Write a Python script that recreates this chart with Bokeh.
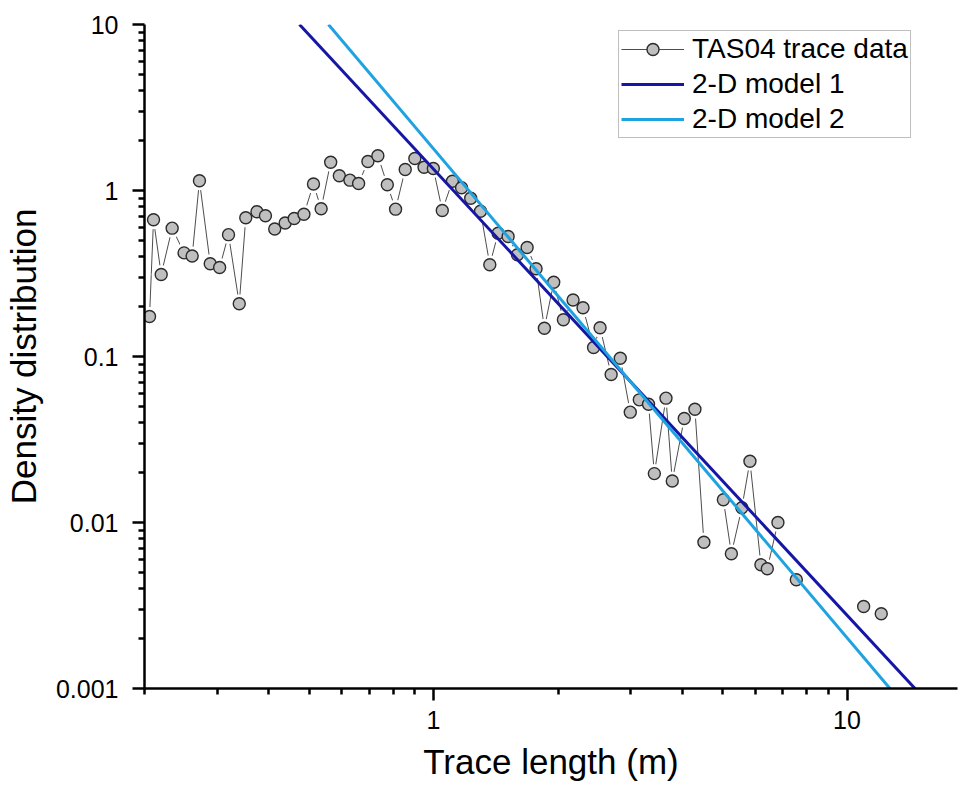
from bokeh.plotting import figure
from bokeh.models import FixedTicker, Legend, LegendItem, ColumnDataSource
from bokeh.embed import file_html
from bokeh.resources import INLINE

nan = float("nan")

# TAS04 trace data (NaN = empty bin, breaks the connecting line)
trace_x = [0.2057, 0.2103, 0.2195, 0.2333, 0.2493, 0.2608, 0.2716, 0.2884, 0.3039, 0.3193,
           0.3390, 0.3515, 0.3741, 0.3922, 0.4130, 0.4377, 0.4603, 0.4859, 0.5125, 0.5348,
           0.5640, 0.5918, 0.6278, 0.6589, 0.6940, 0.7335, 0.7731, 0.8095, 0.8542, 0.9012,
           0.9486, 0.9989, 1.050, 1.111, 1.169, 1.230, 1.299, 1.368, 1.433, 1.515,
           1.596, 1.684, 1.770, 1.854, 1.953, 2.061, 2.175, 2.299, 2.438, 2.528,
           2.689, 2.829, 2.991, 3.145, 3.311, 3.420, 3.649, 3.779, 4.040, 4.287,
           4.507, 4.76, 5.023, 5.252, 5.568, 5.824, 6.191, 6.415, 6.806, 7.16,
           7.540, 9.0, 10.97, 11.5, 12.10]
trace_y = [0.174, 0.666, 0.312, 0.593, 0.421, 0.403, 1.144, 0.362, 0.344, 0.542,
           0.208, 0.685, 0.745, 0.705, 0.586, 0.637, 0.678, 0.719, 1.094, 0.777,
           1.481, 1.226, 1.154, 1.102, 1.495, 1.618, 1.082, 0.772, 1.338, 1.559,
           1.381, 1.357, 0.758, 1.138, 1.038, 0.899, 0.750, 0.357, 0.553, 0.528,
           0.410, 0.454, 0.338, 0.148, 0.280, 0.1664, 0.219, 0.1965, 0.1133, 0.149,
           0.0779, 0.0977, 0.0462, 0.0548, 0.0516, 0.0197, 0.0561, 0.0178, 0.0423, 0.0481,
           0.00761, nan, 0.0137, 0.00648, 0.01227, 0.0234, 0.00556, 0.00526, 0.0100, nan,
           0.00452, nan, 0.00312, nan, 0.00282]

# 2-D models (end points read where the lines cross the frame)
model1_x = [0.474, 14.6]
model1_y = [10.0, 0.001]
model2_x = [0.557, 12.7]
model2_y = [10.0, 0.001]

x_ticks = [1, 10]
x_tick_labels = ["1", "10"]
y_ticks = [0.001, 0.01, 0.1, 1, 10]
y_tick_labels = ["0.001", "0.01", "0.1", "1", "10"]

FONT = "Liberation Sans"

p = figure(width=960, height=794, x_axis_type="log", y_axis_type="log",
           x_range=(0.2, 18.5), y_range=(0.001, 10),
           output_backend="svg", toolbar_location=None,
           min_border_left=144, min_border_right=3, min_border_top=24, min_border_bottom=106)
p.outline_line_color = None
p.grid.visible = False
p.background_fill_color = "white"

src = ColumnDataSource(dict(x=trace_x, y=trace_y))
r_line = p.line("x", "y", source=src, line_color="#4d4d4d", line_width=1)
r_halo = p.scatter("x", "y", source=src, size=19, fill_color="white", line_color=None)
r_pts = p.scatter("x", "y", source=src, size=12, fill_color="#bfbfbf",
                  line_color="#2b2b2b", line_width=1.4)

r_m1 = p.line(model1_x, model1_y, line_color="#1616a6", line_width=3)
r_m2 = p.line(model2_x, model2_y, line_color="#1fa3e0", line_width=3)

# axes
minor_x = [m * 10 ** k for k in (-1, 0, 1) for m in range(2, 10)]
minor_y = [m * 10 ** k for k in (-3, -2, -1, 0) for m in range(2, 10)]
p.xaxis.ticker = FixedTicker(ticks=x_ticks, minor_ticks=minor_x)
p.yaxis.ticker = FixedTicker(ticks=y_ticks, minor_ticks=minor_y)
p.xaxis.major_label_overrides = dict(zip(x_ticks, x_tick_labels))
p.yaxis.major_label_overrides = dict(zip(y_ticks, y_tick_labels))

for ax in (p.xaxis[0], p.yaxis[0]):
    ax.axis_line_color = "black"
    ax.axis_line_width = 2.5
    ax.major_tick_line_color = "black"
    ax.major_tick_line_width = 2.5
    ax.minor_tick_line_color = "black"
    ax.minor_tick_line_width = 2.5
    ax.major_tick_in = 0
    ax.major_tick_out = 12
    ax.minor_tick_in = 0
    ax.minor_tick_out = 6
    ax.major_label_text_font = FONT
    ax.major_label_text_font_size = "25px"
    ax.major_label_text_color = "black"
    ax.axis_label_text_font = FONT
    ax.axis_label_text_font_size = "35px"
    ax.axis_label_text_font_style = "normal"
    ax.axis_label_text_color = "black"

p.xaxis.axis_label = "Trace length (m)"
p.yaxis.axis_label = "Density distribution"
p.xaxis.major_label_standoff = 10
p.yaxis.major_label_standoff = 14
p.xaxis.axis_label_standoff = 10
p.yaxis.axis_label_standoff = 10

legend = Legend(items=[
    LegendItem(label="TAS04 trace data", renderers=[r_line, r_halo, r_pts]),
    LegendItem(label="2-D model 1", renderers=[r_m1]),
    LegendItem(label="2-D model 2", renderers=[r_m2]),
], location=(474, 550))
legend.label_text_font = FONT
legend.label_text_font_size = "28px"
legend.label_text_color = "black"
legend.glyph_width = 63
legend.glyph_height = 30
legend.label_height = 30
legend.label_standoff = 8
legend.spacing = 3
legend.padding = 2
legend.margin = 0
legend.border_line_color = "#808080"
legend.border_line_width = 1
legend.background_fill_color = "white"
legend.background_fill_alpha = 1
p.add_layout(legend, "center")

open("out.html", "w").write(file_html(p, INLINE))
